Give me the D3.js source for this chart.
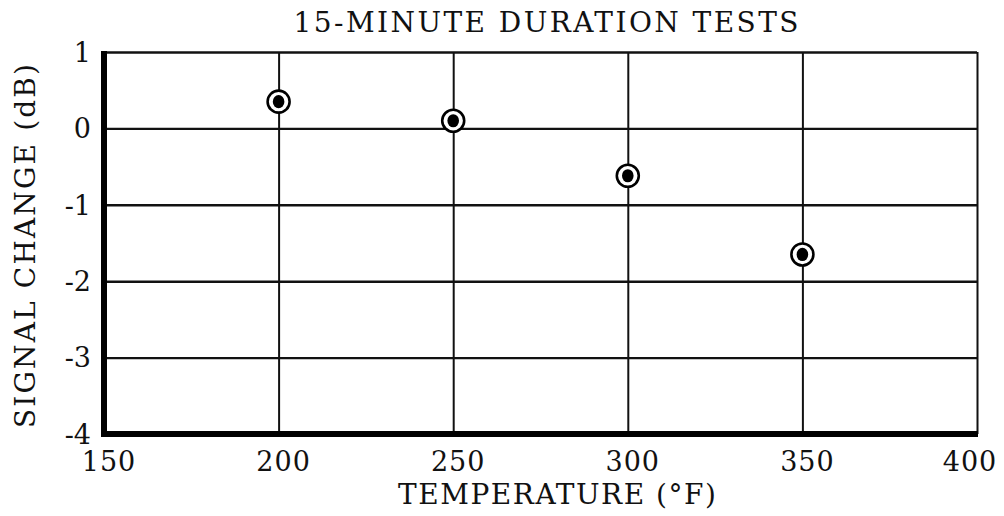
<!DOCTYPE html>
<html>
<head>
<meta charset="utf-8">
<script src="https://cdn.jsdelivr.net/npm/d3@7"></script>
<style>
  body { margin: 0; background: #fff; }
  svg text { font-family: "DejaVu Serif", serif; fill: #111; }
</style>
</head>
<body>
<div id="plot"></div>
<script>
// Data
const temperature = [200, 250, 300, 350];
const signalChange = [0.35, 0.1, -0.62, -1.65];
const tempTicks = [150, 200, 250, 300, 350, 400];
const signalTicks = [1, 0, -1, -2, -3, -4];

const W = 1004, H = 516;

// Scales
const x = d3.scaleLinear().domain([150, 400]).range([104, 977]);
const y = d3.scaleLinear().domain([1, -4]).range([52, 434]);

const svg = d3.select("#plot")
  .append("svg")
  .attr("width", W)
  .attr("height", H);

// Vertical grid lines
svg.append("g")
  .attr("transform", `translate(0,${y(-4)})`)
  .call(d3.axisBottom(x).tickValues(tempTicks.slice(1)).tickSize(-(y(-4) - y(1))).tickFormat(""))
  .call(g => g.select(".domain").remove())
  .call(g => g.selectAll(".tick line").attr("stroke", "#111").attr("stroke-width", 2));

// Horizontal grid lines
svg.append("g")
  .attr("transform", `translate(${x(150)},0)`)
  .call(d3.axisLeft(y).tickValues(signalTicks.slice(0, -1)).tickSize(-(x(400) - x(150))).tickFormat(""))
  .call(g => g.select(".domain").remove())
  .call(g => g.selectAll(".tick line").attr("stroke", "#111").attr("stroke-width", 2.4));

// Heavy left and bottom frame
svg.append("line")
  .attr("x1", x(150)).attr("x2", x(150))
  .attr("y1", y(1) - 1).attr("y2", y(-4) + 3)
  .attr("stroke", "#000").attr("stroke-width", 6);
svg.append("line")
  .attr("x1", x(150) - 3).attr("x2", x(400) + 1)
  .attr("y1", y(-4)).attr("y2", y(-4))
  .attr("stroke", "#000").attr("stroke-width", 6);

// X tick labels
svg.append("g")
  .selectAll("text")
  .data(tempTicks)
  .enter()
  .append("text")
  .attr("x", d => x(d) + (d === 400 ? -7 : 5))
  .attr("y", 471)
  .attr("text-anchor", "middle")
  .attr("letter-spacing", 1)
  .style("font-size", "27px")
  .text(d => d);

// Y tick labels
svg.append("g")
  .selectAll("text")
  .data(signalTicks)
  .enter()
  .append("text")
  .attr("x", 91)
  .attr("y", d => y(d))
  .attr("dy", "0.36em")
  .attr("text-anchor", "end")
  .style("font-size", "27px")
  .text(d => d < 0 ? "-" + Math.abs(d) : d);

// Points: ring with a filled centre
const pts = svg.append("g")
  .selectAll("g")
  .data(temperature.map((t, i) => ({t, v: signalChange[i]})))
  .enter()
  .append("g")
  .attr("transform", d => `translate(${x(d.t)},${y(d.v)})`);
pts.append("circle")
  .attr("r", 11)
  .attr("fill", "#fff")
  .attr("stroke", "#000")
  .attr("stroke-width", 2.6);
pts.append("ellipse")
  .attr("rx", 5.8)
  .attr("ry", 6.6)
  .attr("fill", "#000");

// Title
svg.append("text")
  .attr("x", 546)
  .attr("y", 32)
  .attr("text-anchor", "middle")
  .attr("textLength", 505)
  .attr("lengthAdjust", "spacing")
  .style("font-size", "28px")
  .text("15-MINUTE DURATION TESTS");

// X axis title
svg.append("text")
  .attr("x", 557)
  .attr("y", 504)
  .attr("text-anchor", "middle")
  .attr("textLength", 318)
  .attr("lengthAdjust", "spacing")
  .style("font-size", "28px")
  .text("TEMPERATURE (°F)");

// Y axis title
svg.append("text")
  .attr("transform", "translate(35,246) rotate(-90)")
  .attr("text-anchor", "middle")
  .attr("textLength", 364)
  .attr("lengthAdjust", "spacing")
  .style("font-size", "28px")
  .text("SIGNAL CHANGE (dB)");
</script>
</body>
</html>
